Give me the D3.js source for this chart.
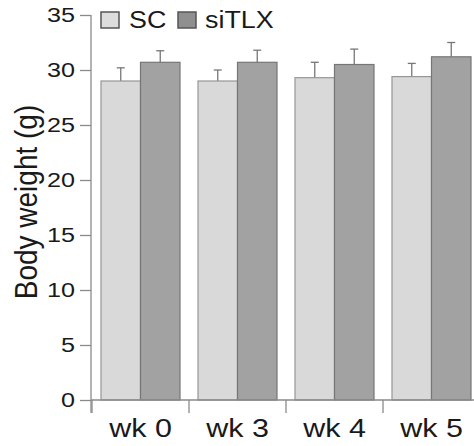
<!DOCTYPE html>
<html>
<head>
<meta charset="utf-8">
<script src="https://cdn.jsdelivr.net/npm/d3@7"></script>
<style>
  body { margin: 0; background: #fff; }
  text { font-family: "Liberation Sans", Arial, sans-serif; fill: #1a1a1a; }
</style>
</head>
<body>
<svg id="chart" width="474" height="446"></svg>
<script>
// weeks and series
const weeks = ["wk 0", "wk 3", "wk 4", "wk 5"];
const groups = ["SC", "siTLX"];
const scMean = [29.0, 29.0, 29.3, 29.4];
const scErr = [1.2, 1.0, 1.4, 1.2];
const tlxMean = [30.7, 30.7, 30.5, 31.2];
const tlxErr = [1.05, 1.1, 1.4, 1.3];
const yTicks = [0, 5, 10, 15, 20, 25, 30, 35];

const fills = { SC: "#d9d9d9", siTLX: "#a2a2a2" };
const strokes = { SC: "#969696", siTLX: "#767676" };
const legFills = { SC: "#dcdcdc", siTLX: "#8f8f8f" };
const axisCol = "#8a8a8a";

// the picture is a bit wider than tall, text looks stretched sideways
const sx = 1.2;

const data = weeks.map((w, i) => ({
  week: w,
  vals: [
    { g: "SC", v: scMean[i], e: scErr[i] },
    { g: "siTLX", v: tlxMean[i], e: tlxErr[i] }
  ]
}));

const svg = d3.select("#chart");

const y = d3.scaleLinear().domain([0, 35]).range([400, 15]);
const x = d3.scaleBand().domain(weeks).range([92, 480]).paddingInner(0).paddingOuter(0);
const xi = d3.scaleBand().domain(groups).range([9, x.bandwidth() - 9]);

const gg = svg.selectAll("g.grp").data(data).enter().append("g")
  .attr("transform", d => `translate(${x(d.week)},0)`);

// error bars (upper only)
gg.selectAll("g.err").data(d => d.vals).enter().append("g").each(function (d) {
  const cx = xi(d.g) + xi.bandwidth() / 2;
  const g = d3.select(this);
  g.append("line").attr("x1", cx).attr("x2", cx)
    .attr("y1", y(d.v)).attr("y2", y(d.v + d.e))
    .attr("stroke", "#777").attr("stroke-width", 1.3);
  g.append("line").attr("x1", cx - 4).attr("x2", cx + 4)
    .attr("y1", y(d.v + d.e)).attr("y2", y(d.v + d.e))
    .attr("stroke", "#777").attr("stroke-width", 1.3);
});

gg.selectAll("rect").data(d => d.vals).enter().append("rect")
  .attr("x", d => xi(d.g))
  .attr("y", d => y(d.v))
  .attr("width", xi.bandwidth())
  .attr("height", d => y(0) - y(d.v))
  .attr("fill", d => fills[d.g])
  .attr("stroke", d => strokes[d.g])
  .attr("stroke-width", 1.2);

// y axis
const ya = svg.append("g").attr("transform", "translate(91,0)")
  .call(d3.axisLeft(y).tickValues(yTicks).tickSize(11).tickPadding(5));
ya.select(".domain").remove();
ya.append("line").attr("x1", 0).attr("x2", 0).attr("y1", 15).attr("y2", 413)
  .attr("stroke", axisCol).attr("stroke-width", 1.3);
ya.selectAll(".tick line").attr("stroke", axisCol).attr("stroke-width", 1.3);
ya.selectAll(".tick text")
  .style("font-size", "21px").attr("fill", "#1a1a1a").attr("font-family", null)
  .attr("x", -16 / sx)
  .attr("transform", `scale(${sx},1)`);

// x axis
const xa = svg.append("g").attr("transform", "translate(0,400)");
xa.append("line").attr("x1", 91).attr("x2", 474).attr("y1", 0).attr("y2", 0)
  .attr("stroke", axisCol).attr("stroke-width", 1.3);
xa.selectAll("line.tk").data(weeks).enter().append("line")
  .attr("x1", d => x(d)).attr("x2", d => x(d))
  .attr("y1", 0).attr("y2", 13)
  .attr("stroke", axisCol).attr("stroke-width", 1.3);
xa.selectAll("text").data(weeks).enter().append("text")
  .attr("transform", d => `translate(${x(d) + x.bandwidth() / 2},37) scale(1.22,1)`)
  .attr("text-anchor", "middle")
  .style("font-size", "25px")
  .text(d => d);

// y label
svg.append("text")
  .attr("transform", "translate(37,202) scale(1.13,1) rotate(-90)")
  .attr("text-anchor", "middle")
  .style("font-size", "28px")
  .text("Body weight (g)");

// legend
const leg = [{ g: "SC", x: 101, tx: 129 }, { g: "siTLX", x: 178, tx: 205 }];
const lg = svg.selectAll("g.leg").data(leg).enter().append("g");
lg.append("rect")
  .attr("x", d => d.x).attr("y", 12).attr("width", 18).attr("height", 16)
  .attr("fill", d => legFills[d.g])
  .attr("stroke", "#555").attr("stroke-width", 1.5);
lg.append("text")
  .attr("transform", d => `translate(${d.tx},28) scale(1.12,1)`)
  .style("font-size", "24px")
  .text(d => d.g);
</script>
</body>
</html>
